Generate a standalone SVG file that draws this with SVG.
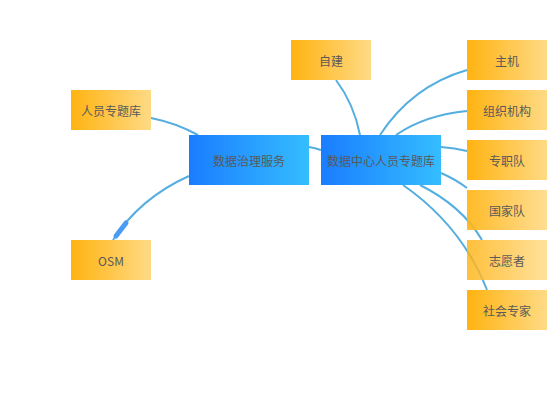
<svg xmlns="http://www.w3.org/2000/svg" width="550" height="420" viewBox="0 0 550 420">
<defs>
<linearGradient id="gBlue" x1="0" y1="0" x2="1" y2="0">
<stop offset="0" stop-color="#1A7DFF"/>
<stop offset="1" stop-color="#35BDFF"/>
</linearGradient>
<linearGradient id="gOrange" x1="0" y1="0" x2="1" y2="0">
<stop offset="0" stop-color="#FFB311"/>
<stop offset="1" stop-color="#FFDA85"/>
</linearGradient>
<style>
.edge{fill:none;stroke:#55AEE0;stroke-width:2}
.blue{fill:url(#gBlue)}
.orange{fill:url(#gOrange)}
text{font-family:"Noto Sans CJK SC","Liberation Sans",sans-serif;font-size:12px;fill:#595959;text-anchor:middle;dominant-baseline:central}
</style>
</defs>
<rect width="550" height="420" fill="#ffffff"/>
<g id="connectors">
<path class="edge" d="M380,135 Q412,86 467,70"/>
<path class="edge" d="M396,135 Q425,115 467,111"/>
<path class="edge" d="M441,147 Q455,148 467,151"/>
<path class="edge" d="M441,173 Q455,179 467,188"/>
<path class="edge" d="M420,185 Q462,206 482,240"/>
<path class="edge" d="M403,185 Q462,226 487,290"/>
<path class="edge" d="M336,80 Q354,104 360,135"/>
<path class="edge" d="M309,147 Q315,148 321,150"/>
<path class="edge" d="M151,118 Q176,123 198,135"/>
<path class="edge" d="M113,240 Q140,198 189,176"/>
<path d="M116,236 L126,223" stroke="#4A9CF2" stroke-width="5" stroke-linecap="round" fill="none"/>
</g>
<g id="n-center"><rect class="blue" x="321" y="135" width="120" height="50"/><text x="381" y="160">数据中心人员专题库</text></g>
<g id="n-gov"><rect class="blue" x="189" y="135" width="120" height="50"/><text x="249" y="160">数据治理服务</text></g>
<g id="n-zijian"><rect class="orange" x="291" y="40" width="80" height="40"/><text x="331" y="60">自建</text></g>
<g id="n-renyuan"><rect class="orange" x="71" y="90" width="80" height="40"/><text x="111" y="110">人员专题库</text></g>
<g id="n-osm"><rect class="orange" x="71" y="240" width="80" height="40"/><text x="111" y="260">OSM</text></g>
<g id="n-zhuji"><rect class="orange" x="467" y="40" width="80" height="40"/><text x="507" y="60">主机</text></g>
<g id="n-zuzhi"><rect class="orange" x="467" y="90" width="80" height="40"/><text x="507" y="110">组织机构</text></g>
<g id="n-zhuanzhi"><rect class="orange" x="467" y="140" width="80" height="40"/><text x="507" y="160">专职队</text></g>
<g id="n-guojia"><rect class="orange" x="467" y="190" width="80" height="40" opacity="0.9"/><text x="507" y="210">国家队</text></g>
<g id="n-zhiyuan"><rect class="orange" x="467" y="240" width="80" height="40" opacity="0.82"/><text x="507" y="260">志愿者</text></g>
<g id="n-shehui"><rect class="orange" x="467" y="290" width="80" height="40"/><text x="507" y="310">社会专家</text></g>
</svg>
